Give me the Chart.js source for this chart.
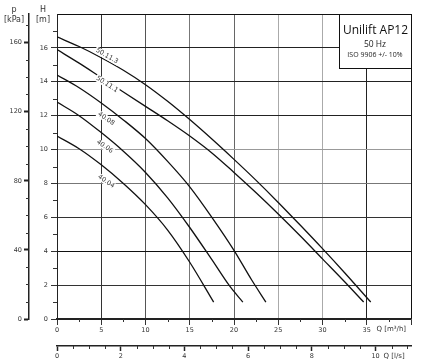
<!DOCTYPE html>
<html>
<head>
<meta charset="utf-8">
<script src="https://cdn.jsdelivr.net/npm/chart.js@4/dist/chart.umd.min.js"></script>
<style>
  html, body { margin: 0; padding: 0; background: #fff; }
  canvas { display: block; }
</style>
</head>
<body>
<canvas id="pumpChart" width="422" height="363"></canvas>
<script>
// tick values
const hGrid = [0, 2, 4, 6, 8, 10, 12, 14, 16, 18];
const hTicks = [0, 2, 4, 6, 8, 10, 12, 14, 16];
const qGrid = [0, 5, 10, 15, 20, 25, 30, 35, 40];
const qTicks = [0, 5, 10, 15, 20, 25, 30, 35];
const lsTicks = [0, 2, 4, 6, 8, 10];
const kpaTicks = [0, 40, 80, 120, 160];
const kpaPerM = 9.81;
const m3hPerLs = 3.6;

// curves (Q in m3/h, H in m)
const curveNames = ["50.11.3", "50.11.1", "40.08", "40.06", "40.04"];
const q50113 = [0, 2.5, 5, 7.5, 10, 12.5, 15, 17.5, 20, 22.5, 25, 27.5, 30, 32.5, 35.45];
const h50113 = [16.65, 16.08, 15.42, 14.68, 13.83, 12.85, 11.77, 10.62, 9.42, 8.18, 6.88, 5.53, 4.15, 2.73, 1.0];
const q50111 = [0, 2.5, 5, 7.5, 10, 12.5, 15, 17.5, 20, 22.5, 25, 27.5, 30, 32.5, 34.65];
const h50111 = [15.9, 15.1, 14.25, 13.4, 12.55, 11.7, 10.8, 9.8, 8.65, 7.45, 6.2, 4.9, 3.55, 2.2, 1.0];
const q4008 = [0, 2.5, 5, 7.5, 10, 12.5, 15, 17.5, 20, 22, 23.6];
const h4008 = [14.4, 13.65, 12.75, 11.75, 10.65, 9.3, 7.8, 6.0, 4.05, 2.3, 1.0];
const q4006 = [0, 2.5, 5, 7.5, 10, 12.5, 15, 17.5, 19.5, 21];
const h4006 = [12.8, 12.0, 11.0, 9.9, 8.65, 7.15, 5.4, 3.5, 1.95, 1.0];
const q4004 = [0, 2.5, 5, 7.5, 10, 12.5, 15, 17.7];
const h4004 = [10.8, 10.05, 9.1, 8.0, 6.75, 5.25, 3.35, 1.0];
const labelQ = [5.65, 5.65, 5.55, 5.4, 5.55];

const infoLines = ["Unilift AP12", "50 Hz", "ISO 9906 +/- 10%"];

const curveQ = [q50113, q50111, q4008, q4006, q4004];
const curveH = [h50113, h50111, h4008, h4006, h4004];

const hGridColor = { 0: "#222", 2: "#333", 4: "#111", 6: "#333", 8: "#777", 10: "#999", 12: "#222", 14: "#222", 16: "#222", 18: "#111" };
const qGridColor = { 0: "#222", 5: "#333", 10: "#555", 15: "#777", 20: "#666", 25: "#aaa", 30: "#aaa", 35: "#222", 40: "#111" };
// vertical shift of each curve label from its curve, px
const labelShift = [-5, 3, 12, 11, 12.5];

const tickFont = { family: "DejaVu Sans", size: 6.5 };
const textColor = "#333";

function headAt(points, q) {
  for (let i = 1; i < points.length; i++) {
    if (q <= points[i].x) {
      const a = points[i - 1], b = points[i];
      return a.y + (b.y - a.y) * (q - a.x) / (b.x - a.x);
    }
  }
  return points[points.length - 1].y;
}

const minorTicks = {
  id: "minorTicks",
  afterDraw(chart) {
    const ctx = chart.ctx;
    const s = chart.scales;
    ctx.save();
    ctx.strokeStyle = "#333";
    ctx.lineWidth = 1;
    ctx.beginPath();
    for (let v = 2.5; v < 40; v += 5) {
      const px = Math.round(s.x.getPixelForValue(v)) + 0.5;
      ctx.moveTo(px, s.x.top); ctx.lineTo(px, s.x.top + 3);
    }
    for (let v = 0.5; v < 11.1; v += 0.5) {
      if (v % 2 === 0) continue;
      const px = Math.round(s.x2.getPixelForValue(v)) + 0.5;
      ctx.moveTo(px, s.x2.top); ctx.lineTo(px, s.x2.top + 3);
    }
    for (let v = 1; v < 18; v += 2) {
      const py = Math.round(s.y.getPixelForValue(v)) + 0.5;
      ctx.moveTo(s.y.right - 4, py); ctx.lineTo(s.y.right, py);
    }
    for (let v = 10; v < 177; v += 10) {
      if (v % 40 === 0) continue;
      const py = Math.round(s.p.getPixelForValue(v)) + 0.5;
      ctx.moveTo(s.p.right - 3, py); ctx.lineTo(s.p.right, py);
    }
    ctx.stroke();
    ctx.restore();
  }
};

const curveLabels = {
  id: "curveLabels",
  afterDatasetsDraw(chart) {
    const ctx = chart.ctx;
    const x = chart.scales.x, y = chart.scales.y;
    chart.data.datasets.forEach((ds, i) => {
      const q = labelQ[i];
      const px = x.getPixelForValue(q), py = y.getPixelForValue(headAt(ds.data, q));
      const px2 = x.getPixelForValue(q + 1), py2 = y.getPixelForValue(headAt(ds.data, q + 1));
      const ang = Math.min(Math.atan2(py2 - py, px2 - px), 0.6);
      ctx.save();
      ctx.translate(px, py + labelShift[i]);
      ctx.rotate(ang);
      ctx.font = '6.5px "DejaVu Sans"';
      const w = ctx.measureText(ds.label).width;
      ctx.fillStyle = "#fff";
      ctx.fillRect(-w / 2 - 1, -3.5, w + 2, 7);
      ctx.fillStyle = textColor;
      ctx.textAlign = "center";
      ctx.textBaseline = "middle";
      ctx.fillText(ds.label, 0, 0);
      ctx.restore();
    });
  }
};

const infoBox = {
  id: "infoBox",
  afterDraw(chart) {
    const ctx = chart.ctx;
    const a = chart.chartArea;
    const w = 72, h = 54;
    const bx = a.right - w, by = a.top;
    ctx.save();
    ctx.fillStyle = "#fff";
    ctx.fillRect(bx, by, w, h);
    ctx.strokeStyle = "#111";
    ctx.lineWidth = 1;
    ctx.strokeRect(Math.round(bx) + 0.5, Math.round(by) + 0.5, w, h);
    ctx.fillStyle = "#111";
    ctx.textAlign = "center";
    ctx.textBaseline = "middle";
    ctx.font = '12px "Open Sans"';
    ctx.fillText(infoLines[0], bx + w / 2 + 0.5, by + 17);
    ctx.fillStyle = "#222";
    ctx.font = '8.5px "Open Sans"';
    ctx.fillText(infoLines[1], bx + w / 2, by + 31);
    ctx.font = '7px "Open Sans"';
    ctx.fillText(infoLines[2], bx + w / 2, by + 41);
    ctx.restore();
  }
};

const axisTitles = {
  id: "axisTitles",
  afterDraw(chart) {
    const ctx = chart.ctx;
    const s = chart.scales;
    const top = chart.chartArea.top;
    ctx.save();
    ctx.fillStyle = textColor;
    ctx.textBaseline = "middle";
    ctx.textAlign = "center";
    ctx.font = '8px "DejaVu Sans"';
    ctx.fillText("p", 14, top - 4);
    ctx.fillText("[kPa]", 14, top + 6);
    ctx.fillText("H", 43, top - 4);
    ctx.fillText("[m]", 43, top + 6);
    ctx.textAlign = "left";
    ctx.font = '7px "DejaVu Sans"';
    ctx.fillText("Q [m³/h]", s.x.getPixelForValue(36.1), s.x.top + 10.5);
    ctx.fillText("Q [l/s]", s.x.getPixelForValue(36.9), s.x2.top + 10);
    ctx.restore();
  }
};

new Chart(document.getElementById("pumpChart"), {
  type: "line",
  data: {
    datasets: curveNames.map((name, i) => ({
      label: name,
      data: curveQ[i].map((q, j) => ({ x: q, y: curveH[i][j] })),
      borderColor: "#111",
      borderWidth: 1.3,
      pointRadius: 0,
      fill: false,
      cubicInterpolationMode: "monotone"
    }))
  },
  options: {
    responsive: false,
    animation: false,
    devicePixelRatio: 1,
    layout: { padding: { top: 14, right: 11, left: 0, bottom: 0 } },
    plugins: { legend: { display: false }, tooltip: { enabled: false } },
    scales: {
      x: {
        type: "linear", position: "bottom", weight: 1, min: 0, max: 40,
        afterBuildTicks: s => { s.ticks = qGrid.map(v => ({ value: v })); },
        afterFit: s => { s.height = 27; },
        ticks: { callback: v => qTicks.includes(v) ? String(v) : "", font: tickFont, color: textColor, padding: 1, maxRotation: 0, autoSkip: false },
        grid: { color: c => qGridColor[c.tick.value] || "#555", lineWidth: 1, tickLength: 6, tickColor: "#333" },
        border: { color: "#222", width: 1.5 }
      },
      x2: {
        type: "linear", position: "bottom", weight: 2, min: 0, max: 40 / m3hPerLs,
        afterBuildTicks: s => { s.ticks = lsTicks.map(v => ({ value: v })); },
        afterFit: s => { s.height = 17; },
        ticks: { font: tickFont, color: textColor, padding: 1, maxRotation: 0, autoSkip: false },
        grid: { drawOnChartArea: false, tickLength: 5, tickWidth: 1.5, tickColor: "#222" },
        border: { color: "#222", width: 1.5 }
      },
      y: {
        type: "linear", position: "left", weight: 1, min: 0, max: 18,
        afterBuildTicks: s => { s.ticks = hGrid.map(v => ({ value: v })); },
        afterFit: s => { s.width = 28; },
        ticks: { callback: v => hTicks.includes(v) ? String(v) : "", font: tickFont, color: textColor, padding: 3, autoSkip: false },
        grid: {
          color: c => hGridColor[c.tick.value] || "#555", lineWidth: 1, tickLength: 6,
          tickColor: c => c.tick.value === 18 ? "rgba(0,0,0,0)" : "#333"
        },
        border: { color: "#222", width: 1 }
      },
      p: {
        type: "linear", position: "left", weight: 2, min: 0, max: 18 * kpaPerM,
        afterBuildTicks: s => { s.ticks = kpaTicks.map(v => ({ value: v })); },
        afterFit: s => { s.width = 29; },
        ticks: { font: tickFont, color: textColor, padding: 2, autoSkip: false },
        grid: { drawOnChartArea: false, tickLength: 5, tickWidth: 2, tickColor: "#222" },
        border: { color: "#222", width: 1.5 }
      }
    }
  },
  plugins: [minorTicks, curveLabels, infoBox, axisTitles]
});
</script>
</body>
</html>
